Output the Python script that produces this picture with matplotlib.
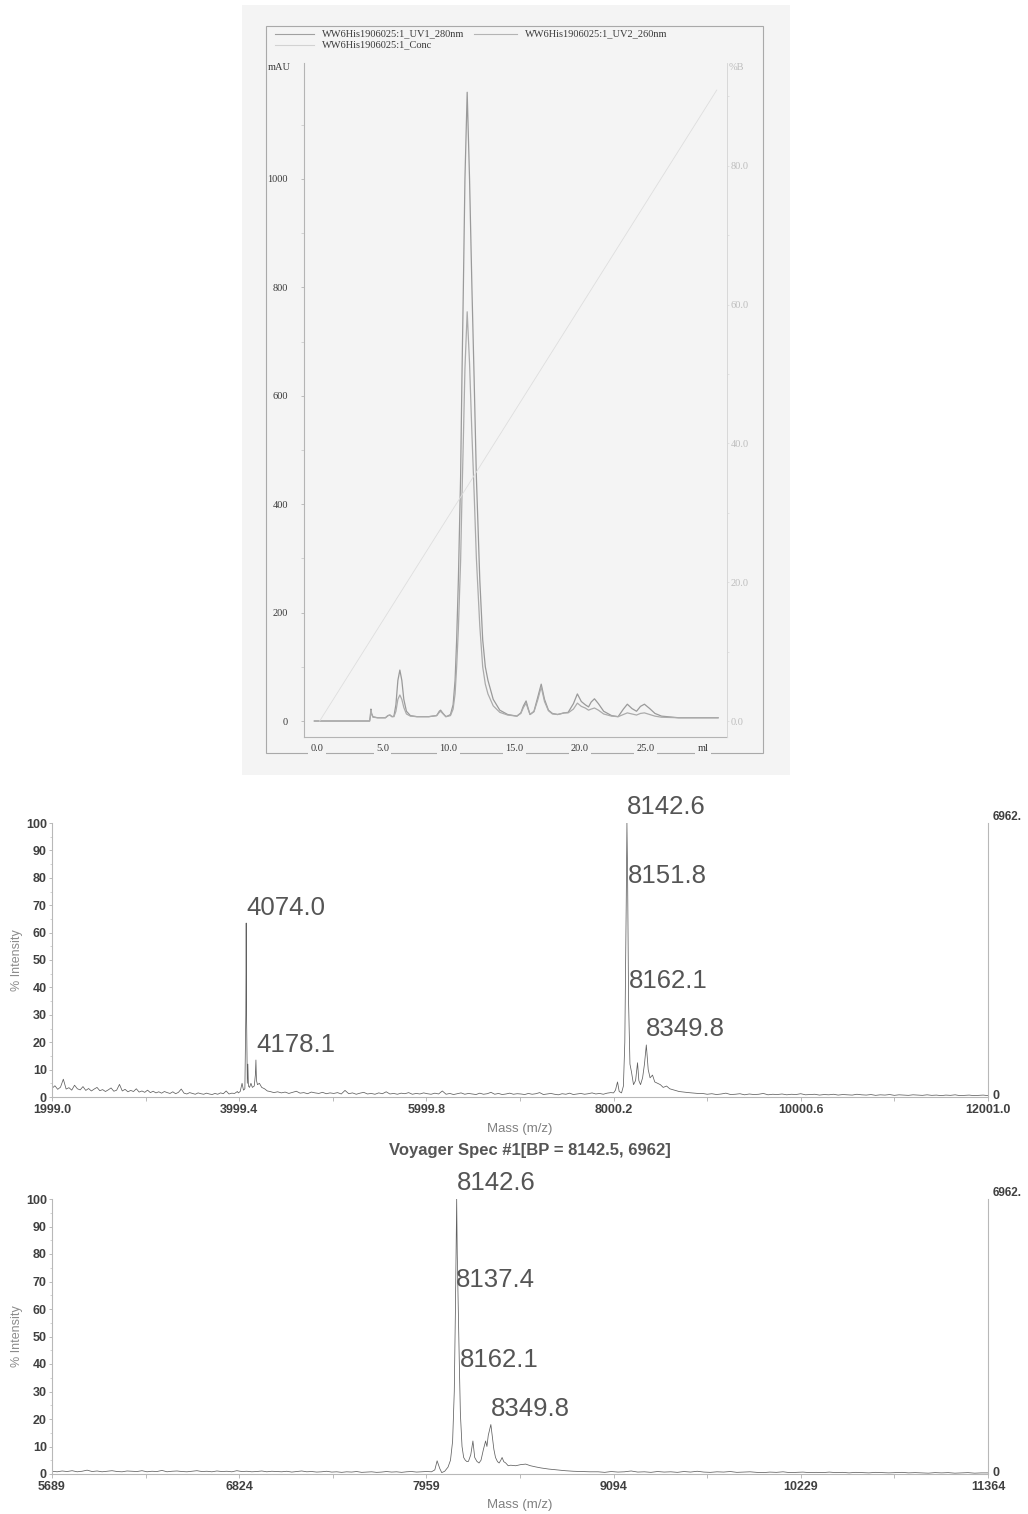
import numpy as np
import matplotlib
matplotlib.use("Agg")
import matplotlib.pyplot as plt
from matplotlib.patches import Rectangle
from matplotlib.lines import Line2D
from matplotlib.ticker import FixedLocator

# ---------------- data: chromatogram (ml, mAU, %B) ----------------
ml = [-0.2, 4.0, 4.05, 4.1, 4.15, 4.25, 4.6, 5.2, 5.4, 5.55,
      5.7, 5.85, 6.0, 6.15, 6.3, 6.45, 6.6, 6.8, 7.1, 7.6,
      8.5, 9.1, 9.3, 9.4, 9.55, 9.8, 10.0, 10.15, 10.35, 10.5,
      10.62, 10.75, 10.92, 11.02, 11.13, 11.25, 11.42, 11.6, 11.78, 11.95,
      12.12, 12.38, 12.6, 12.8, 13.0, 13.4, 13.9, 14.5, 15.2, 15.5,
      15.7, 15.9, 16.05, 16.2, 16.5, 16.8, 17.05, 17.3, 17.6, 17.9,
      18.3, 18.8, 19.1, 19.5, 19.8, 20.1, 20.4, 20.65, 20.85, 21.1,
      21.4, 21.8, 22.4, 22.9, 23.3, 23.6, 23.95, 24.3, 24.6, 24.9,
      25.3, 25.7, 26.2, 27.5, 30.5]
uv1_280 = [0, 0, 8, 22, 14, 8, 6, 6, 10, 11,
           8, 9, 30, 75, 94, 75, 40, 18, 10, 8,
           8, 10, 18, 20, 15, 8, 10, 12, 30, 75,
           150, 260, 450, 630, 800, 1000, 1160, 1000, 800, 630,
           450, 260, 150, 100, 75, 40, 20, 12, 9, 15,
           28, 37, 24, 12, 18, 45, 68, 40, 20, 14,
           12, 15, 16, 32, 50, 36, 30, 26, 35, 41,
           32, 18, 10, 8, 22, 31, 23, 18, 27, 31,
           23, 14, 9, 6, 6]
uv2_260 = [0, 0, 7, 20, 13, 7, 6, 6, 10, 11,
           8, 8, 18, 40, 48, 40, 25, 13, 9, 8,
           8, 10, 16, 18, 14, 8, 9, 10, 22, 50,
           100, 170, 295, 410, 520, 650, 755, 660, 530, 420,
           300, 175, 100, 68, 50, 28, 16, 11, 9, 14,
           25, 33, 22, 12, 17, 40, 63, 36, 19, 13,
           12, 15, 15, 22, 33, 27, 24, 20, 22, 24,
           20, 13, 9, 8, 12, 15, 13, 11, 14, 15,
           12, 9, 7, 6, 6]
conc_ml = [0.2, 30.4]
conc_pb = [0.0, 90.9]
chrom_xticks = [0, 5, 10, 15, 20, 25]
chrom_xlabels = ["0.0", "5.0", "10.0", "15.0", "20.0", "25.0"]
chrom_yticks = [0, 200, 400, 600, 800, 1000]
chrom_bticks = [0, 20, 40, 60, 80]
chrom_blabels = ["0.0", "20.0", "40.0", "60.0", "80.0"]
legend_names = ["WW6His1906025:1_UV1_280nm", "WW6His1906025:1_UV2_260nm",
                "WW6His1906025:1_Conc"]

# ---------------- data: mass spectrum 1 ----------------
s1_base1 = [3.2, 4.1, 2.8, 3.6, 6.5, 2.9, 3.4, 2.5, 4.3, 3.0, 2.6, 3.8, 2.4, 3.1,
            2.2, 2.9, 3.5, 2.3, 2.7, 2.0, 2.6, 3.3, 2.1, 2.5, 4.6, 2.2, 2.8, 1.9,
            2.4, 2.0, 3.0, 1.8, 2.2, 1.7, 2.5, 1.6, 2.1, 1.5, 1.9, 1.4, 2.0, 1.6,
            1.3, 1.9, 1.2, 1.7, 2.9, 1.4, 1.1, 1.6, 1.3, 1.0, 1.5, 1.2, 1.0, 1.4,
            1.1, 0.9, 1.3, 1.0, 1.5, 1.2, 2.2, 1.1, 1.4, 1.3, 2.0]
s1_peak_a_m = [3990, 4010, 4030, 4045, 4060, 4070, 4074, 4078, 4086, 4092,
               4098, 4110, 4125, 4140, 4160, 4172, 4178.1, 4184, 4195, 4215,
               4240, 4270, 4300]
s1_peak_a_i = [1.5, 2.0, 5.0, 2.5, 3.0, 30, 63.5, 30, 5, 12,
               4, 3.5, 5, 3.5, 4, 8, 13.5, 6, 4.5, 5,
               3.5, 3.0, 2.2]
s1_base2 = [2.0, 1.6, 1.9, 1.5, 1.8, 1.3, 1.7, 2.1, 1.4, 1.6, 1.2, 1.8, 1.5, 1.3, 1.7, 1.2, 1.5,
            1.3, 1.6, 1.1, 2.4, 1.2, 1.5, 1.0, 1.4, 1.7, 1.1, 1.3, 1.0, 1.5, 1.2, 1.9, 1.1,
            1.3, 1.0, 1.4, 1.2, 1.6, 1.0, 1.3, 1.1, 1.5,
            1.2, 1.0, 1.4, 1.1, 2.2, 1.0, 1.3, 0.9, 1.2, 1.5, 1.0, 1.3, 1.1, 0.9, 1.4, 1.0,
            1.2, 1.7, 1.0, 1.3, 0.9, 1.1, 1.4, 1.0, 1.2,
            1.1, 0.9, 1.3, 1.0, 1.2, 1.6, 0.9, 1.1, 1.3, 1.0, 0.8, 1.2, 1.0, 1.4, 0.9, 1.1,
            1.3, 1.0, 1.2, 1.5, 1.1, 1.3, 1.0, 1.4, 1.6]
s1_peak_b_m = [8000, 8020, 8042, 8060, 8085, 8105, 8120, 8135, 8142.6, 8150,
               8160, 8175, 8192, 8213, 8235, 8256, 8270, 8288, 8310, 8330,
               8349.8, 8370, 8390, 8416, 8440, 8470, 8500, 8530, 8566, 8600,
               8650, 8700, 8800, 8900]
s1_peak_b_i = [1.5, 2.5, 5.5, 2.0, 1.5, 4, 20, 70, 100, 80,
               35, 12, 9, 4.5, 6, 12.5, 6, 4.5, 7, 12,
               19, 10, 7, 8, 5.5, 5, 4.5, 3.5, 4, 3,
               2.5, 2.0, 1.6, 1.3]
s1_base3 = [1.3, 1.0, 1.2, 0.9, 1.1, 1.4, 0.9, 1.0, 1.2, 0.8, 1.1, 0.9, 1.0, 1.3, 0.8,
            1.0, 0.9, 1.1, 0.8, 1.0, 0.9, 1.2, 0.8, 0.9, 1.0, 0.7, 0.9, 0.8, 1.0, 0.7,
            0.9, 0.8, 0.7, 1.0, 0.8, 0.7, 0.9, 0.6, 0.8, 0.7, 0.9, 0.6, 0.8, 0.7, 0.6,
            0.8, 0.7, 0.6, 0.8, 0.6, 0.7, 0.5, 0.7, 0.6, 0.8, 0.5, 0.6, 0.7, 0.5, 0.6,
            0.7, 0.5]
s1_xticks = [1999.0, 3999.4, 5999.8, 8000.2, 10000.6, 12001.0]
s1_xlabels = ["1999.0", "3999.4", "5999.8", "8000.2", "10000.6", "12001.0"]
s1_peaks = ["4074.0", "4178.1", "8142.6", "8151.8", "8162.1", "8349.8"]

# ---------------- data: mass spectrum 2 ----------------
s2_base1 = [1.0, 0.8, 1.1, 0.9, 1.2, 0.8, 1.0, 1.4, 0.9, 1.1, 0.8, 1.0, 1.2, 0.9, 0.8,
            1.1, 1.0, 0.9, 1.2, 0.8, 1.0, 0.9, 1.3, 0.8, 1.0, 1.1, 0.9, 0.8, 1.0, 1.2,
            0.9, 1.0, 0.8, 1.1, 0.9, 1.0, 0.8, 1.2, 0.9, 1.0, 0.8, 0.9, 1.1, 0.8, 1.0,
            0.9, 0.8, 1.0, 0.7, 0.9, 1.1, 0.8, 0.9, 0.7, 0.8, 1.0, 0.7, 0.8, 0.6, 0.8,
            0.7, 0.9, 0.6, 0.7, 0.8, 0.6, 0.7, 0.9, 0.7, 0.8, 0.6, 0.8, 0.9, 0.7, 0.8,
            0.9, 0.8]
s2_peak_m = [8010, 8024, 8040, 8052, 8070, 8090, 8105, 8118, 8128, 8135,
             8140, 8142.6, 8146, 8152, 8158, 8165, 8175, 8185, 8195, 8205,
             8214, 8228, 8241, 8252, 8265, 8278, 8290, 8305, 8318, 8326,
             8334, 8349.8, 8358, 8368, 8378, 8390, 8400, 8410, 8418, 8428,
             8440, 8455, 8470, 8500, 8530, 8561, 8590, 8620, 8654, 8700,
             8750, 8800, 8850, 8900, 8950]
s2_peak_i = [1.5, 4.8, 2.0, 0.5, 1.0, 2.5, 5, 12, 30, 60,
             85, 100, 80, 60, 42, 22, 10, 6, 5, 4.5,
             4.6, 7, 12, 6, 4.6, 4, 5, 9, 12, 10,
             14, 18, 14, 9, 6, 4.5, 4, 5, 6, 4.5,
             4, 3, 3.2, 3.0, 3.4, 3.6, 3, 2.6, 2.2, 1.8,
             1.5, 1.2, 1.0, 0.9, 0.8]
s2_base2 = [0.8, 0.6, 0.9, 0.7, 0.8, 1.1, 0.7, 0.8, 0.6, 0.9, 0.7, 0.8, 0.6, 0.9, 0.7,
            1.0, 0.7, 0.6, 0.8, 0.7, 0.9, 0.6, 0.7, 0.8, 0.6, 0.5, 0.7, 0.6, 0.8, 0.5,
            0.6, 0.7, 0.5, 0.6, 0.5, 0.7, 0.5, 0.6, 0.4, 0.6, 0.5, 0.4, 0.6, 0.5, 0.4,
            0.5, 0.6, 0.4, 0.5, 0.4, 0.3, 0.5, 0.4, 0.5, 0.3, 0.4, 0.5, 0.3, 0.4, 0.4]
s2_xticks = [5689, 6824, 7959, 9094, 10229, 11364]
s2_xlabels = ["5689", "6824", "7959", "9094", "10229", "11364"]
s2_peaks = ["8142.6", "8137.4", "8162.1", "8349.8"]
bp_max = "6962."
title2 = "Voyager Spec #1[BP = 8142.5, 6962]"

# ---------------- layout helpers ----------------
W, H = 1028, 1514
fig = plt.figure(figsize=(W / 100, H / 100), dpi=100)
fig.patch.set_facecolor("white")


def fx(px):
    return px / W


def fy(py):
    return 1 - py / H


def rect(l, t, r, b):
    return [fx(l), fy(b), fx(r) - fx(l), fy(t) - fy(b)]


SERIF = "Liberation Serif"
SANS = "Liberation Sans"
PAPER = "#f4f4f4"

# scanned-paper background and outer frame
fig.add_artist(Rectangle((fx(242), fy(775)), fx(790) - fx(242), fy(5) - fy(775),
                         transform=fig.transFigure, facecolor=PAPER,
                         edgecolor="none", zorder=-3))
fig.add_artist(Rectangle((fx(266), fy(753)), fx(763) - fx(266), fy(26) - fy(753),
                         transform=fig.transFigure, facecolor="none",
                         edgecolor="#a9a9a9", lw=0.8, zorder=-1))

# legend
leg_cols = ["#a0a0a0", "#b4b4b4", "#d2d2d2"]
leg_pos = [(275, 314, 34), (474, 517, 34), (275, 314, 45)]
for name, col, (x0, x1, yy) in zip(legend_names, leg_cols, leg_pos):
    fig.add_artist(Line2D([fx(x0), fx(x1)], [fy(yy), fy(yy)], color=col, lw=0.8,
                          transform=fig.transFigure))
    fig.text(fx(x1 + 8), fy(yy), name, family=SERIF, fontsize=7.5, color="#3a3a3a",
             ha="left", va="center")

# ---------------- chromatogram ----------------
ax = fig.add_axes(rect(304, 63, 727, 737))
ax.patch.set_alpha(0)
ax.plot(ml, uv1_280, color="#9a9a9a", lw=0.9)
ax.plot(ml, uv2_260, color="#ababab", lw=0.9)
ax.set_xlim(-0.99, 31.18)
ax.set_ylim(-29.5, 1214)
for s in ["top", "right"]:
    ax.spines[s].set_visible(False)
ax.spines["left"].set_color("#b4b4b4")
ax.spines["bottom"].set_color("#b4b4b4")
ax.spines["left"].set_linewidth(0.8)
ax.spines["bottom"].set_linewidth(0.8)
ax.set_yticks(chrom_yticks)
ax.set_yticklabels([str(v) for v in chrom_yticks], family=SERIF, fontsize=7.5,
                   color="#3a3a3a")
ax.yaxis.set_minor_locator(FixedLocator([100, 300, 500, 700, 900, 1100]))
ax.tick_params(axis="y", which="major", length=2.5, width=0.6, color="#b4b4b4", pad=9)
ax.tick_params(axis="y", which="minor", length=2.0, width=0.5, color="#c4c4c4")
ax.set_xticks(chrom_xticks)
ax.set_xticklabels(chrom_xlabels, family=SERIF, fontsize=7.5, color="#3a3a3a")
ax.tick_params(axis="x", length=0, pad=5)
for lab in ax.get_xticklabels():
    lab.set_bbox(dict(facecolor=PAPER, edgecolor="none", pad=1.6))
ax.annotate("ml", xy=(29.35, 0), xycoords=ax.get_xaxis_transform(),
            xytext=(0, -5), textcoords="offset points", family=SERIF,
            fontsize=7.5, color="#3a3a3a", ha="center", va="top",
            bbox=dict(facecolor=PAPER, edgecolor="none", pad=1.6))
fig.text(fx(279), fy(68), "mAU", family=SERIF, fontsize=7.5, color="#3a3a3a",
         ha="center", va="center")

axb = ax.twinx()
axb.patch.set_alpha(0)
axb.plot(conc_ml, conc_pb, color="#dedede", lw=0.6)
axb.set_ylim(-2.3, 94.8)
for s in ["top", "left", "bottom"]:
    axb.spines[s].set_visible(False)
axb.spines["right"].set_color("#d8d8d8")
axb.spines["right"].set_linewidth(0.7)
axb.set_yticks(chrom_bticks)
axb.set_yticklabels(chrom_blabels, family=SERIF, fontsize=7.5, color="#bdbdbd")
axb.yaxis.set_minor_locator(FixedLocator([10, 30, 50, 70, 90]))
axb.tick_params(axis="y", which="both", length=1.5, width=0.5, color="#d8d8d8", pad=1)
fig.text(fx(729), fy(67), "%B", family=SERIF, fontsize=7.5, color="#bdbdbd",
         ha="left", va="center")

# ---------------- mass spectra ----------------
TXT = "#404040"


def draw_spectrum(top, bottom, xlo, xhi, masses, inten, xticks, xlabels,
                  peak_texts, peak_y, xlabel_y):
    a = fig.add_axes(rect(52, top, 988, bottom))
    a.patch.set_alpha(0)
    a.plot(masses, inten, color="#606060", lw=0.55)
    a.set_xlim(xlo, xhi)
    a.set_ylim(0, 100)
    a.spines["top"].set_visible(False)
    for s in ["left", "right", "bottom"]:
        a.spines[s].set_color("#b8b8b8")
        a.spines[s].set_linewidth(0.8)
    a.set_yticks(range(0, 101, 10))
    a.set_yticklabels([str(v) for v in range(0, 101, 10)], family=SANS,
                      fontsize=9, fontweight="bold", color=TXT)
    a.yaxis.set_minor_locator(FixedLocator(range(5, 100, 10)))
    a.tick_params(axis="y", which="major", length=2.5, width=0.6, color="#b0b0b0",
                  pad=1.2, right=False)
    a.tick_params(axis="y", which="minor", length=1.5, width=0.5, color="#c0c0c0")
    a.set_xticks(xticks)
    a.set_xticklabels(xlabels, family=SANS, fontsize=9, fontweight="bold", color=TXT)
    mids = [(xticks[i] + xticks[i + 1]) / 2 for i in range(len(xticks) - 1)]
    a.xaxis.set_minor_locator(FixedLocator(mids))
    a.tick_params(axis="x", which="major", length=3, width=0.6, color="#b0b0b0", pad=2)
    a.tick_params(axis="x", which="minor", length=3, width=0.6, color="#b0b0b0")
    # right-hand absolute scale
    a.annotate(bp_max, xy=(1, 1), xycoords="axes fraction", xytext=(3, 4),
               textcoords="offset points", ha="left", va="center", family=SANS,
               fontsize=8.5, fontweight="bold", color=TXT)
    a.annotate("0", xy=(1, 0), xycoords="axes fraction", xytext=(3, 1),
               textcoords="offset points", ha="left", va="center", family=SANS,
               fontsize=9, fontweight="bold", color=TXT)
    for t, yy in zip(peak_texts, peak_y):
        a.text(float(t), yy, t, family=SANS, fontsize=18.5, color="#555555",
               ha="left", va="center", clip_on=False)
    fig.text(fx(17), fy((top + bottom) / 2), "% Intensity", rotation=90,
             family=SANS, fontsize=9, color="#8c8c8c", ha="center", va="center")
    fig.text(fx(520), fy(xlabel_y), "Mass (m/z)", family=SANS, fontsize=9.5,
             color="#808080", ha="center", va="center")
    return a


s1_m = (list(np.linspace(2000, 3980, len(s1_base1))) + s1_peak_a_m +
        list(np.linspace(4330, 7970, len(s1_base2))) + s1_peak_b_m +
        list(np.linspace(8950, 12000, len(s1_base3))))
s1_i = s1_base1 + s1_peak_a_i + s1_base2 + s1_peak_b_i + s1_base3
draw_spectrum(823, 1097, 1999.0, 12001.0, s1_m, s1_i, s1_xticks, s1_xlabels,
              s1_peaks, [69, 19, 105.8, 80.7, 42.3, 24.8], 1129)

s2_m = (list(np.linspace(5690, 7990, len(s2_base1))) + s2_peak_m +
        list(np.linspace(9000, 11363, len(s2_base2))))
s2_i = s2_base1 + s2_peak_i + s2_base2
draw_spectrum(1199, 1474, 5689, 11364, s2_m, s2_i, s2_xticks, s2_xlabels,
              s2_peaks, [105.8, 70.4, 41.6, 23.8], 1505)

fig.text(fx(530), fy(1150), title2, family=SANS, fontsize=12, fontweight="bold",
         color="#555555", ha="center", va="center")

fig.savefig("out.png", dpi=100)
